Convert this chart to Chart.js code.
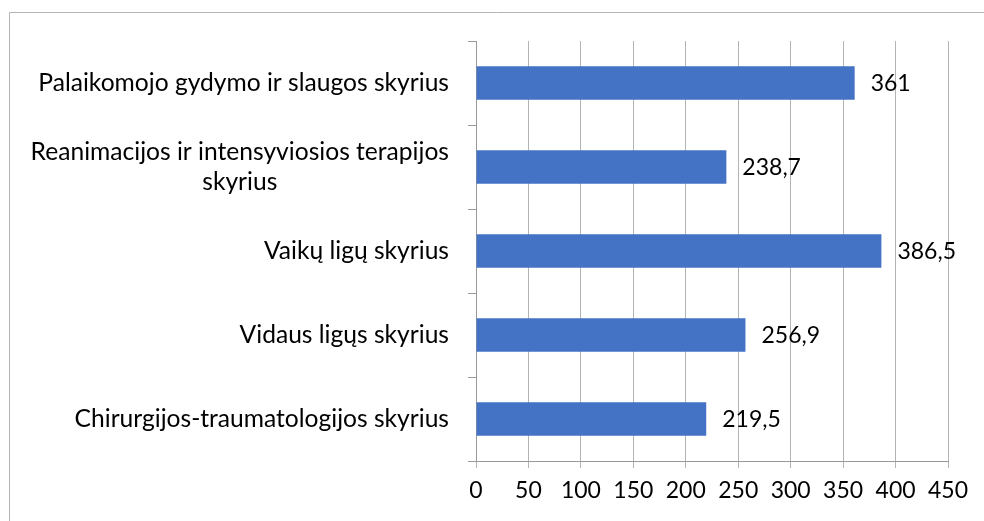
<!DOCTYPE html>
<html>
<head>
    <meta charset="utf-8">
    <title>Skyriai</title>
    <script src="https://cdn.jsdelivr.net/npm/chart.js"></script>
    <style>
        body { margin: 0; background: #fff; }
    </style>
</head>
<body>
    <canvas id="myChart" width="984" height="521"></canvas>
    <script>
        const categories = [
            ['Palaikomojo gydymo ir slaugos skyrius'],
            ['Reanimacijos ir intensyviosios terapijos', 'skyrius'],
            ['Vaikų ligų skyrius'],
            ['Vidaus ligųs skyrius'],
            ['Chirurgijos-traumatologijos skyrius']
        ];
        const values = [361, 238.7, 386.5, 256.9, 219.5];
        const xMin = 0;
        const xMax = 450;
        const xStep = 50;

        const LABEL_FONT = '24.6px Lato';
        const VALUE_FONT = '23px Lato';

        // Excel-like: frame, centred multi-line category labels, value labels
        const excelLook = {
            id: 'excelLook',
            beforeDraw(chart) {
                const ctx = chart.ctx;
                ctx.save();
                ctx.fillStyle = '#fff';
                ctx.fillRect(0, 0, chart.width, chart.height);
                ctx.strokeStyle = '#b4b4b4';
                ctx.lineWidth = 1;
                ctx.beginPath();
                ctx.moveTo(9.5, chart.height);
                ctx.lineTo(9.5, 12.5);
                ctx.lineTo(chart.width, 12.5);
                ctx.stroke();
                ctx.restore();
            },
            afterDraw(chart) {
                const ctx = chart.ctx;
                const yScale = chart.scales.y;
                ctx.save();
                ctx.font = LABEL_FONT;
                ctx.fillStyle = '#000';
                ctx.textBaseline = 'middle';
                ctx.textAlign = 'center';
                const right = chart.chartArea.left - 27;
                const lineHeight = 30;
                categories.forEach((lines, i) => {
                    const cy = yScale.getPixelForTick(i);
                    const w = Math.max(...lines.map(l => ctx.measureText(l).width));
                    const cx = right - w / 2;
                    lines.forEach((l, j) => {
                        ctx.fillText(l, cx, cy + (j - (lines.length - 1) / 2) * lineHeight);
                    });
                });
                ctx.font = VALUE_FONT;
                ctx.textAlign = 'left';
                const meta = chart.getDatasetMeta(0);
                meta.data.forEach((bar, i) => {
                    const txt = String(values[i]).replace('.', ',');
                    ctx.fillText(txt, bar.x + 16, bar.y + 1);
                });
                ctx.restore();
            }
        };

        const ctx = document.getElementById('myChart').getContext('2d');
        new Chart(ctx, {
            type: 'bar',
            data: {
                labels: categories,
                datasets: [{
                    data: values,
                    backgroundColor: '#4472C4',
                    borderWidth: 0,
                    categoryPercentage: 0.4,
                    barPercentage: 1
                }]
            },
            options: {
                indexAxis: 'y',
                responsive: false,
                animation: false,
                layout: { padding: { top: 41, right: 36, left: 0, bottom: 0 } },
                plugins: {
                    legend: { display: false },
                    tooltip: { enabled: false }
                },
                scales: {
                    x: {
                        min: xMin,
                        max: xMax,
                        ticks: {
                            stepSize: xStep,
                            color: '#000',
                            font: { family: 'Lato', size: 23 },
                            padding: 9,
                            maxRotation: 0
                        },
                        grid: { color: '#b4b4b4', tickLength: 7 },
                        border: { color: '#999' },
                        afterFit: s => { s.height = 60; }
                    },
                    y: {
                        ticks: { color: 'rgba(0,0,0,0)' },
                        grid: { offset: true, drawOnChartArea: false, tickLength: 8, color: '#999' },
                        border: { color: '#999' },
                        afterFit: s => { s.width = 476; }
                    }
                }
            },
            plugins: [excelLook]
        });
    </script>
</body>
</html>
